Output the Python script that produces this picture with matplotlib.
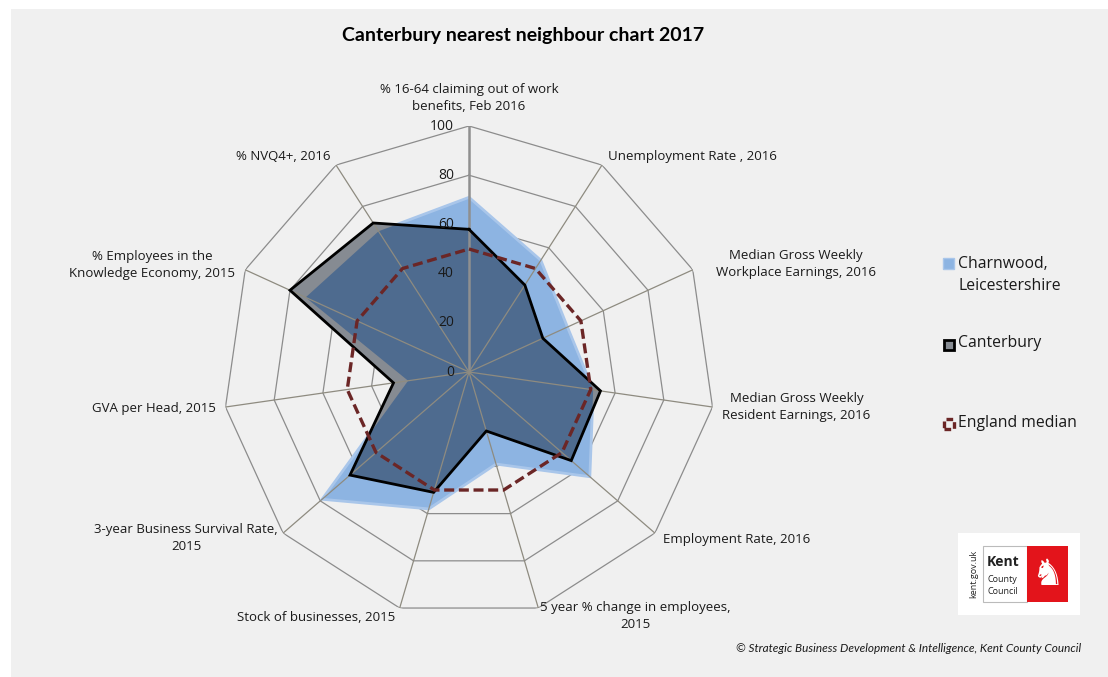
import numpy as np
import matplotlib
matplotlib.use("Agg")
import matplotlib.pyplot as plt
from matplotlib.patches import Rectangle

# ---- data -------------------------------------------------------------
categories = [
    "% 16-64 claiming out of work\nbenefits, Feb 2016",
    "Unemployment Rate , 2016",
    "Median Gross Weekly\nWorkplace Earnings, 2016",
    "Median Gross Weekly\nResident Earnings, 2016",
    "Employment Rate, 2016",
    "5 year % change in employees,\n2015",
    "Stock of businesses, 2015",
    "3-year Business Survival Rate,\n2015",
    "GVA per Head, 2015",
    "% Employees in the\nKnowledge Economy, 2015",
    "% NVQ4+, 2016",
]
charnwood = [71, 54, 44, 51, 65, 39, 58, 79, 25, 73, 68]
canterbury = [58, 42, 33, 54, 55, 25, 51, 64, 31, 80, 72]
england_median = [50, 50, 50, 50, 50, 50, 50, 50, 50, 50, 50]
radial_ticks = [0, 20, 40, 60, 80, 100]
series_names = ["Charnwood,\nLeicestershire", "Canterbury", "England median"]

# ---- styling ----------------------------------------------------------
BG = "#F0F0F0"
GRID = "#8C8C8C"
BLUE = "#8DB4E2"
BLUE_EDGE = "#A9C6EA"
GREY = "#868B92"
DARK = "#4E6B8F"
MEDIAN = "#6B2626"
FONT = "Open Sans"

W, H = 1108, 677
fig = plt.figure(figsize=(W / 100, H / 100), dpi=100)
fig.patch.set_facecolor("white")
fig.add_artist(Rectangle((11 / W, 0), 1 - 11 / W, 1 - 9 / H,
                         transform=fig.transFigure, facecolor=BG,
                         edgecolor="none", zorder=-10))

cx, cy, R = 469, 372, 246
ax = fig.add_axes([(cx - R) / W, 1 - (cy + R) / H, 2 * R / W, 2 * R / H],
                  projection="polar")
ax.set_theta_zero_location("N")
ax.set_theta_direction(-1)
ax.set_ylim(0, 100)
ax.axis("off")

n = len(categories)
theta = np.linspace(0, 2 * np.pi, n, endpoint=False)
tc = np.append(theta, theta[0])


def closed(v):
    return np.append(v, v[0])


# polygonal rings
for r in radial_ticks[1:]:
    ax.plot(tc, [r] * (n + 1), color=GRID, lw=0.9, zorder=1)

# series fills
charn_patch = ax.fill(tc, closed(charnwood), facecolor=BLUE,
                      edgecolor=BLUE_EDGE, lw=2.0, zorder=2)[0]
ax.fill(tc, closed(canterbury), facecolor=GREY, edgecolor="none", zorder=3)
overlap = ax.fill(tc, closed(canterbury), facecolor=DARK, edgecolor="none",
                  zorder=4)[0]
overlap.set_clip_path(charn_patch)

# spokes
for i, t in enumerate(theta):
    ax.plot([t, t], [0, 100], color="#8F8F8F" if i == 0 else "#8E8B80",
            lw=1.8 if i == 0 else 0.9, zorder=5)

ax.plot(tc, closed(canterbury), color="black", lw=2.0, zorder=6,
        solid_joinstyle="miter")
ax.plot(tc, closed(england_median), color=MEDIAN, lw=2.4, zorder=7,
        dashes=(3.0, 1.4), dash_capstyle="butt")

# radial tick labels
for r in radial_ticks:
    ax.annotate(str(r), xy=(0, r), xytext=(-15, 0), textcoords="offset pixels",
                ha="right", va="center", fontsize=10, family=FONT,
                color="#1A1A1A", zorder=8, annotation_clip=False)

# category labels: (dx, dy) offsets in pixels and alignment
label_place = [
    ((0, 13), "center", "bottom"),
    ((6, 9), "left", "center"),
    ((23, 6), "left", "center"),
    ((10, 0), "left", "center"),
    ((8, -6), "left", "center"),
    ((2, -8), "left", "center"),
    ((-4, -9), "right", "center"),
    ((-5, -5), "right", "center"),
    ((-10, -1), "right", "center"),
    ((-10, 5), "right", "center"),
    ((-6, 9), "right", "center"),
]
for t, lab, (off, ha, va) in zip(theta, categories, label_place):
    ax.annotate(lab, xy=(t, 100), xytext=off, textcoords="offset pixels",
                ha=ha, va=va, multialignment="center", fontsize=9.5,
                family=FONT, color="#1A1A1A", annotation_clip=False,
                linespacing=1.35)

# title
fig.text(523 / W, 1 - 36 / H, "Canterbury nearest neighbour chart 2017",
         ha="center", va="center", fontsize=14, fontweight="bold",
         family="Lato", color="black")


# legend
def fx(x):
    return x / W


def fy(y):
    return 1 - y / H


fig.add_artist(Rectangle((fx(943), fy(269)), 11 / W, 11 / H,
                         transform=fig.transFigure, facecolor=BLUE,
                         edgecolor=BLUE_EDGE, lw=1))
fig.add_artist(Rectangle((fx(943.5), fy(349.5)), 10 / W, 10 / H,
                         transform=fig.transFigure, facecolor=GREY,
                         edgecolor="black", lw=2))
fig.add_artist(Rectangle((fx(944), fy(429)), 10 / W, 10 / H,
                         transform=fig.transFigure, facecolor="none",
                         edgecolor=MEDIAN, lw=2.4, linestyle=(0, (2, 1.2))))
leg_y = [275.5, 343, 423]
for name, y in zip(series_names, leg_y):
    fig.text(fx(958), fy(y), name, ha="left", va="center", fontsize=11.3,
             family=FONT, color="#1A1A1A", linespacing=1.5)

# council logo
fig.add_artist(Rectangle((fx(958), fy(615)), 122 / W, 82 / H,
                         transform=fig.transFigure, facecolor="white",
                         edgecolor="none"))
fig.add_artist(Rectangle((fx(983), fy(602)), 44 / W, 56 / H,
                         transform=fig.transFigure, facecolor="white",
                         edgecolor="#BBBBBB", lw=0.8))
fig.add_artist(Rectangle((fx(1027), fy(602)), 41 / W, 56 / H,
                         transform=fig.transFigure, facecolor="#E3141B",
                         edgecolor="none"))
fig.text(fx(1047), fy(575), "\u265E", ha="center", va="center",
         fontsize=26, color="white", family="DejaVu Sans")
fig.text(fx(974), fy(574), "kent.gov.uk", rotation=90, ha="center",
         va="center", fontsize=6.5, family=FONT, color="#222222")
fig.text(fx(987), fy(562), "Kent", ha="left", va="center", fontsize=10,
         fontweight="bold", family=FONT, color="#222222")
fig.text(fx(988), fy(580), "County", ha="left", va="center", fontsize=6.5,
         family=FONT, color="#222222")
fig.text(fx(988), fy(592), "Council", ha="left", va="center", fontsize=6.5,
         family=FONT, color="#222222")

# credit
fig.text(fx(1081), fy(649),
         "\u00a9 Strategic Business Development & Intelligence, Kent County Council",
         ha="right", va="center", fontsize=8.5, style="italic", family="Lato",
         color="#1A1A1A")

fig.savefig("out.png", dpi=100, facecolor=fig.get_facecolor())
